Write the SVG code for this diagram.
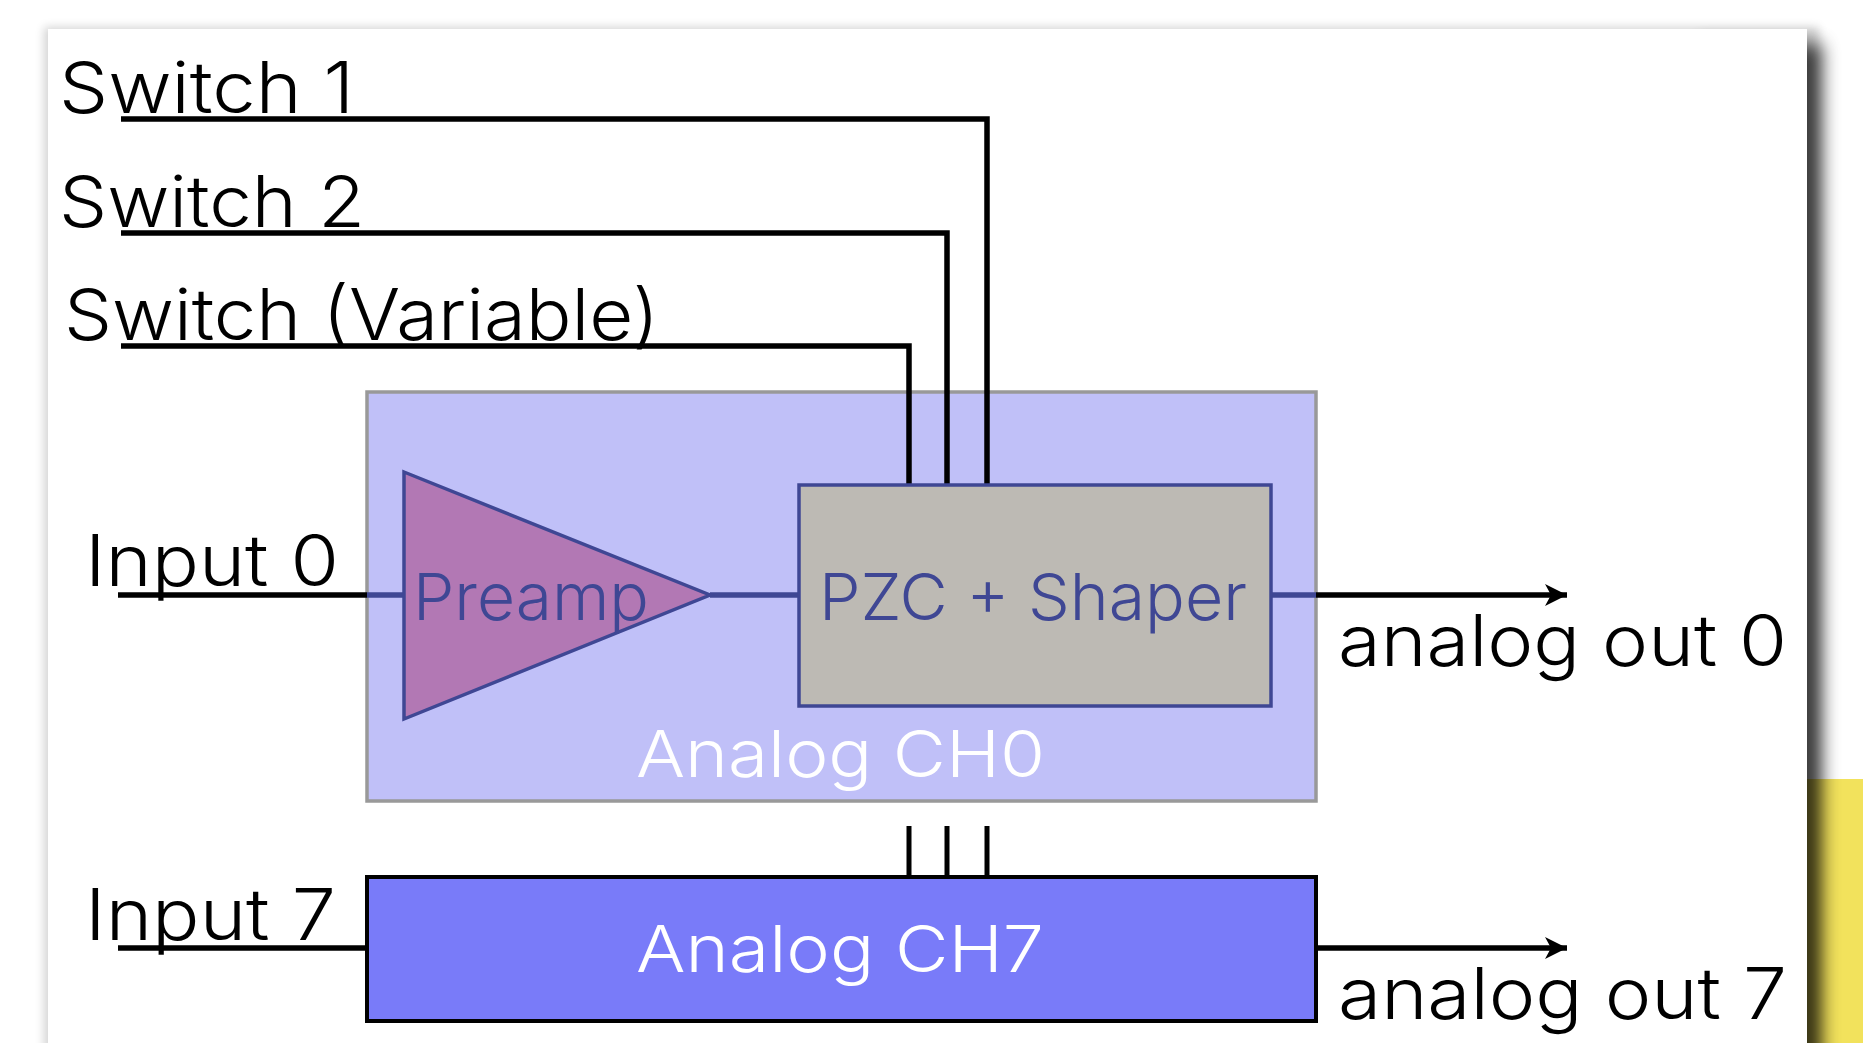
<svg xmlns="http://www.w3.org/2000/svg" width="1863" height="1043" viewBox="0 0 1863 1043">
<style>
text{font-family:"Inter","Liberation Sans",sans-serif;font-weight:300;font-size:71px;fill:#000}
.n{fill:#3f4794;font-size:65px}
.w{fill:#fff;font-size:65px}
.k{fill:none;stroke:#000;stroke-width:5.5}
.t{fill:none;stroke:#000;stroke-width:5}
.b{fill:none;stroke:#3f4794;stroke-width:5.5}
</style>
<defs>
<filter id="s1" x="-5%" y="-5%" width="110%" height="110%"><feGaussianBlur stdDeviation="5"/></filter>
<filter id="s2" x="-30%" y="-5%" width="160%" height="110%"><feGaussianBlur stdDeviation="9"/></filter>
<marker id="a" markerUnits="userSpaceOnUse" markerWidth="24" markerHeight="24" refX="23" refY="12" orient="auto"><path d="M1 1L23 12L1 23L7 12Z" fill="#000"/></marker>
</defs>
<rect width="1863" height="1043" fill="#fff"/>
<rect x="1807" y="779" width="56" height="264" fill="#f2e25c"/>
<rect x="44" y="27" width="1775" height="1100" fill="#000" opacity=".17" filter="url(#s1)"/>
<rect x="1700" y="44" width="122" height="1100" fill="#000" opacity=".72" filter="url(#s2)"/>
<rect id="slide" x="48" y="29" width="1759" height="1050" fill="#fff"/>
<g id="ch0"><rect x="367" y="392" width="949" height="409" fill="#c0c0f8" stroke="#999" stroke-width="3.5"/></g>
<g id="connectors">
<path class="k" d="M121 119H987V485"/>
<path class="k" d="M121 233H947V485"/>
<path class="k" d="M121 346H909V485"/>
<path class="k" d="M118 595H367"/>
<path class="b" d="M367 595H404M710 595H799M1270 595H1316"/>
<path class="k" d="M1316 595H1567" marker-end="url(#a)"/>
<path class="k" d="M118 948H367"/>
<path class="k" d="M1316 948H1567" marker-end="url(#a)"/>
<path class="t" d="M909 826V877M947 826V877M987 826V877"/>
</g>
<g id="preamp"><path d="M404 472L710 595L404 719Z" fill="#b278b4" stroke="#3f4794" stroke-width="3.5"/><text class="n" x="413" y="620" textLength="236" lengthAdjust="spacingAndGlyphs">Preamp</text></g>
<g id="pzc"><rect x="799" y="485" width="472" height="221" fill="#bdbab4" stroke="#3f4794" stroke-width="3.5"/><text class="n" x="819" y="620" textLength="428" lengthAdjust="spacingAndGlyphs">PZC + Shaper</text></g>
<g id="ch0-label"><text class="w" x="636" y="777" textLength="409" lengthAdjust="spacingAndGlyphs">Analog CH0</text></g>
<g id="ch7"><rect x="367" y="877" width="949" height="144" fill="#797bf9" stroke="#000" stroke-width="4"/><text class="w" x="636" y="972" textLength="408" lengthAdjust="spacingAndGlyphs">Analog CH7</text></g>
<g id="labels">
<text x="59" y="113" textLength="295" lengthAdjust="spacingAndGlyphs">Switch 1</text>
<text x="59" y="227" textLength="306" lengthAdjust="spacingAndGlyphs">Switch 2</text>
<text x="64" y="340" textLength="595" lengthAdjust="spacingAndGlyphs">Switch (Variable)</text>
<text x="85" y="586" textLength="254" lengthAdjust="spacingAndGlyphs">Input 0</text>
<text x="85" y="940" textLength="251" lengthAdjust="spacingAndGlyphs">Input 7</text>
<text x="1338" y="666" textLength="449" lengthAdjust="spacingAndGlyphs">analog out 0</text>
<text x="1338" y="1019" textLength="449" lengthAdjust="spacingAndGlyphs">analog out 7</text>
</g>
</svg>
